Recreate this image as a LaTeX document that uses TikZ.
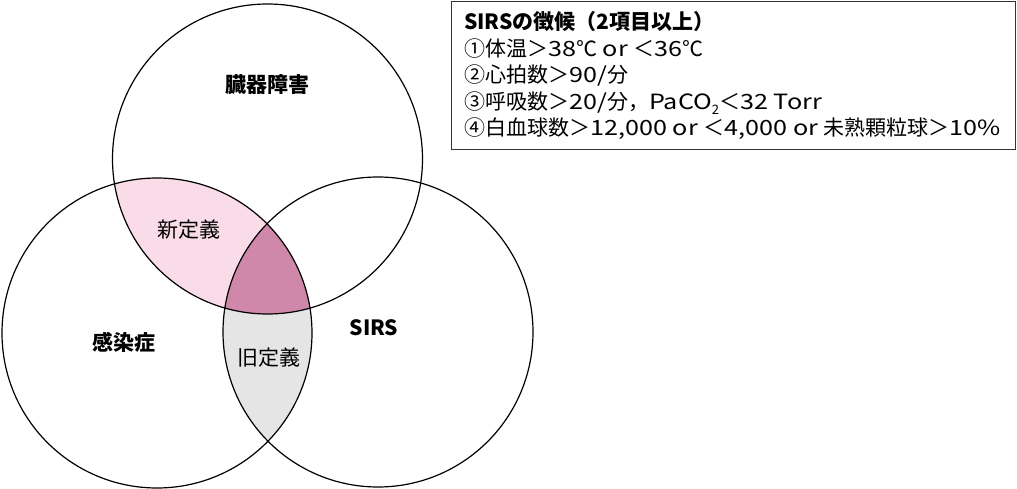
\documentclass[tikz,border=0pt]{standalone}
\usepackage{fontspec}
\setmainfont{Noto Sans CJK JP}
\newfontfamily\latnfont{Noto Sans CJK JP}[FakeStretch=1.2]
\newcommand{\lseg}[1]{{\latnfont #1}}
\definecolor{lightpink}{HTML}{F9DCE8}
\definecolor{darkpink}{HTML}{D088AA}
\definecolor{lightgrey}{HTML}{E5E5E5}
\definecolor{boxline}{HTML}{333333}
\begin{document}
\begin{tikzpicture}[x=1pt,y=-1pt,
  ring/.style={draw=black,line width=1.2pt},
  biglabel/.style={font=\fontsize{21pt}{25pt}\selectfont\bfseries,inner sep=0pt},
  reglabel/.style={font=\fontsize{21pt}{25pt}\selectfont,inner sep=0pt},
  boxline/.style={font=\fontsize{21pt}{25pt}\selectfont,inner sep=0pt,anchor=base west}]
\useasboundingbox (0,0) rectangle (1017,489);
\fill[white] (0,0) rectangle (1017,489);
\coordinate (ct) at (267.5,159);
\coordinate (cl) at (157,333);
\coordinate (cr) at (378,332);
% grey: left & right
\begin{scope}
  \clip (cl) circle[radius=155pt];
  \fill[lightgrey] (cr) circle[radius=155pt];
\end{scope}
% pink: top & left
\begin{scope}
  \clip (ct) circle[radius=155pt];
  \fill[lightpink] (cl) circle[radius=155pt];
\end{scope}
% dark: all three
\begin{scope}
  \clip (ct) circle[radius=155pt];
  \clip (cl) circle[radius=155pt];
  \fill[darkpink] (cr) circle[radius=155pt];
\end{scope}
\draw[ring] (ct) circle[radius=155pt];
\draw[ring] (cl) circle[radius=155pt];
\draw[ring] (cr) circle[radius=155pt];
\node[biglabel] (organ) at (267,85) {臓器障害};
\node[biglabel] (infect) at (124,342) {感染症};
\node[biglabel] (sirs) at (374,328) {SIRS};
\node[reglabel] (newdef) at (189,230) {新定義};
\node[reglabel] (olddef) at (269,358) {旧定義};
% criteria box
\draw[boxline,draw=boxline,line width=1pt] (451.5,1.5) rectangle (1015,150);
\node[boxline,font=\fontsize{21pt}{25pt}\selectfont\bfseries] (title) at (464,30) {SIRSの徴候（2項目以上）};
\node[boxline] (l1) at (464,56.5) {①体温＞\lseg{38}℃\lseg{ or }＜\lseg{36}℃};
\node[boxline] (l2) at (464,83) {②心拍数＞\lseg{90/}分};
\node[boxline] (l3) at (464,109.5) {③呼吸数＞\lseg{20/}分，\lseg{PaCO}\raisebox{-0.25em}{\fontsize{13pt}{13pt}\selectfont 2}＜\lseg{32 Torr}};
\node[boxline] (l4) at (464,136) {④白血球数＞\lseg{12,000 or }＜\lseg{4,000 or }未熟顆粒球＞\lseg{10\%}};
\end{tikzpicture}
\end{document}
